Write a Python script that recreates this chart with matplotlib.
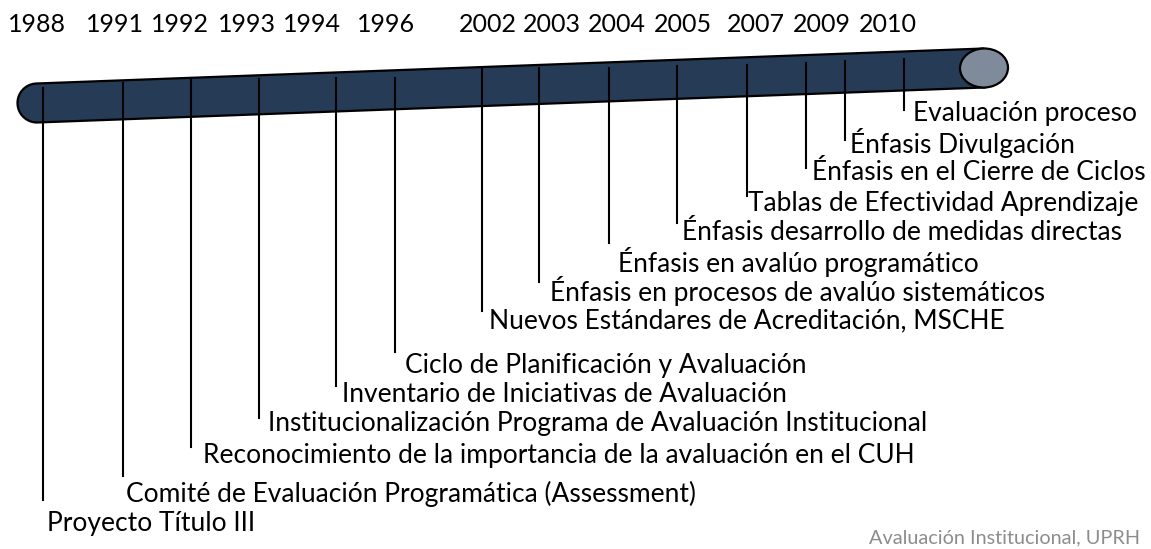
import numpy as np
import matplotlib.pyplot as plt
from matplotlib.patches import Polygon, Ellipse

plt.rcParams['font.family'] = ['Lato', 'DejaVu Sans']

# datos de la linea de tiempo
years = ['1988', '1991', '1992', '1993', '1994', '1996', '2002', '2003',
         '2004', '2005', '2007', '2009', '2010']
events = ['Proyecto Título III',
          'Comité de Evaluación Programática (Assessment)',
          'Reconocimiento de la importancia de la avaluación en el CUH',
          'Institucionalización Programa de Avaluación Institucional',
          'Inventario de Iniciativas de Avaluación',
          'Ciclo de Planificación y Avaluación',
          'Nuevos Estándares de Acreditación, MSCHE',
          'Énfasis en procesos de avalúo sistemáticos',
          'Énfasis en avalúo programático',
          'Énfasis desarrollo de medidas directas',
          'Tablas de Efectividad Aprendizaje',
          'Énfasis en el Cierre de Ciclos',
          'Énfasis Divulgación',
          'Evaluación proceso']
footer = 'Avaluación Institucional, UPRH'

# posiciones en pixeles (diseño)
year_x = [37, 115, 180, 247, 312, 386, 488, 552, 617, 683, 756, 822, 888]
line_x = [43, 123, 191, 259, 336, 395, 482, 539, 609, 677, 747, 806, 845, 904]
line_top = [88, 83, 80, 79, 78, 78, 68, 68, 68, 66, 65, 63, 61, 59]
line_bot = [500, 476, 447, 418, 386, 352, 311, 282, 243, 223, 196, 168, 140, 110]
label_x = [47, 126, 203, 268, 342, 405, 489, 550, 618, 682, 748, 812, 850, 913]
label_y = [524, 494, 455, 424, 394, 365, 321, 291, 262, 232, 203, 173, 143, 113]

W, H = 1151, 549
fig = plt.figure(figsize=(W / 100, H / 100), dpi=100)
ax = fig.add_axes([0, 0, 1, 1])
ax.set_xlim(0, W)
ax.set_ylim(H, 0)
ax.axis('off')

# barra (cilindro inclinado)
L = np.array([37.0, 103.0])
R = np.array([984.0, 68.0])
r = 19.5
d = (R - L) / np.linalg.norm(R - L)
n = np.array([-d[1], d[0]])
ang = np.degrees(np.arctan2(d[1], d[0]))
t = np.linspace(np.pi / 2, 3 * np.pi / 2, 40)
arc = [L + r * (np.cos(a) * d + np.sin(a) * n) for a in t]
pts = arc + [R - r * n, R + r * n]
ax.add_patch(Polygon(pts, closed=True, facecolor='#253b56', edgecolor='black',
                     lw=1.6, zorder=2))
ax.add_patch(Ellipse(R, 48, 2 * r, angle=ang, facecolor='#7f8b9b',
                     edgecolor='black', lw=1.6, zorder=3))

for x, y0, y1 in zip(line_x, line_top, line_bot):
    ax.plot([x, x], [y0, y1], color='black', lw=1.5, zorder=4)

for x, y, s in zip(label_x, label_y, events):
    ax.text(x, y, s, fontsize=19, va='center', ha='left', color='black')

for x, s in zip(year_x, years):
    ax.text(x, 25, s, fontsize=18, va='center', ha='center', color='black')

ax.text(1140, 538, footer, fontsize=14.3, va='center', ha='right', color='#8c8c8c')

fig.savefig('out.png', dpi=100)
